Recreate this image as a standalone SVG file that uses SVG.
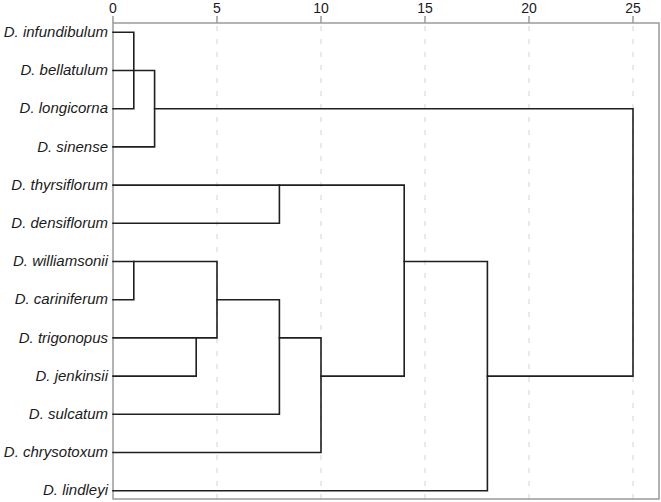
<svg xmlns="http://www.w3.org/2000/svg" width="661" height="502" viewBox="0 0 661 502">
<style>
.lbl{font-family:"Liberation Sans",Arial,sans-serif;font-size:15px;font-style:italic;fill:#1a1a1a;text-anchor:end}
.tick{font-family:"Liberation Sans",Arial,sans-serif;font-size:14px;fill:#1a1a1a;text-anchor:middle}
.grid{stroke:#d4d4d4;stroke-width:1;stroke-dasharray:5,8;fill:none}
.axis{stroke:#9a9a9a;stroke-width:1.5;fill:none}
.br{stroke:#1f1f1f;stroke-width:1.6;fill:none;stroke-linecap:square;stroke-linejoin:miter}
</style>
<rect width="661" height="502" fill="#fff"/>
<g id="grid">
<line class="grid" x1="217" y1="26" x2="217" y2="499"/>
<line class="grid" x1="321" y1="26" x2="321" y2="499"/>
<line class="grid" x1="425" y1="26" x2="425" y2="499"/>
<line class="grid" x1="529" y1="26" x2="529" y2="499"/>
<line class="grid" x1="633" y1="26" x2="633" y2="499"/>
</g>
<g id="axis">
<path class="axis" d="M113,23 H659 V499 H113 Z"/>
<path class="axis" d="M113,16 V23 M217,16 V23 M321,16 V23 M425,16 V23 M529,16 V23 M633,16 V23"/>
<text class="tick" x="113" y="13">0</text>
<text class="tick" x="217" y="13">5</text>
<text class="tick" x="321" y="13">10</text>
<text class="tick" x="425" y="13">15</text>
<text class="tick" x="529" y="13">20</text>
<text class="tick" x="633" y="13">25</text>
</g>
<g id="leaf-infundibulum"><text class="lbl" x="108" y="37">D. infundibulum</text></g>
<g id="leaf-bellatulum"><text class="lbl" x="108" y="75.2">D. bellatulum</text></g>
<g id="leaf-longicorna"><text class="lbl" x="108" y="113.4">D. longicorna</text></g>
<g id="leaf-sinense"><text class="lbl" x="108" y="151.6">D. sinense</text></g>
<g id="leaf-thyrsiflorum"><text class="lbl" x="108" y="189.8">D. thyrsiflorum</text></g>
<g id="leaf-densiflorum"><text class="lbl" x="108" y="228">D. densiflorum</text></g>
<g id="leaf-williamsonii"><text class="lbl" x="108" y="266.2">D. williamsonii</text></g>
<g id="leaf-cariniferum"><text class="lbl" x="108" y="304.4">D. cariniferum</text></g>
<g id="leaf-trigonopus"><text class="lbl" x="108" y="342.6">D. trigonopus</text></g>
<g id="leaf-jenkinsii"><text class="lbl" x="108" y="380.8">D. jenkinsii</text></g>
<g id="leaf-sulcatum"><text class="lbl" x="108" y="419">D. sulcatum</text></g>
<g id="leaf-chrysotoxum"><text class="lbl" x="108" y="457.2">D. chrysotoxum</text></g>
<g id="leaf-lindleyi"><text class="lbl" x="108" y="495.4">D. lindleyi</text></g>
<g id="connectors">
<path class="br" d="M113,32.3 H133.8 V108.7 H113"/>
<path class="br" d="M113,70.5 H154.6 V146.9 H113"/>
<path class="br" d="M154.6,108.7 H633 V376.1 H487.4"/>
<path class="br" d="M113,185.1 H404.2 V376.1 H321"/>
<path class="br" d="M279.4,185.1 V223.3 H113"/>
<path class="br" d="M113,261.5 H217 V337.9 H113"/>
<path class="br" d="M133.8,261.5 V299.7 H113"/>
<path class="br" d="M196.2,337.9 V376.1 H113"/>
<path class="br" d="M217,299.7 H279.4 V414.3 H113"/>
<path class="br" d="M279.4,337.9 H321 V452.5 H113"/>
<path class="br" d="M404.2,261.5 H487.4 V490.7 H113"/>
</g>
</svg>
